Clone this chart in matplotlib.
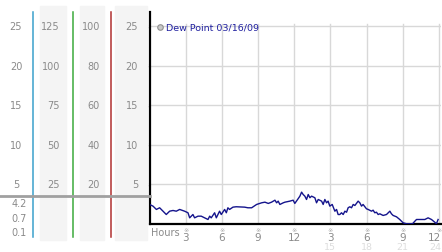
import matplotlib
matplotlib.use("Agg")
import matplotlib.pyplot as plt
import matplotlib.transforms as mtransforms

# dew point readings (hour of day, value)
hours = [0.0, 0.29, 0.57, 0.84, 1.12, 1.39, 1.67, 1.95, 2.22, 2.5, 2.91, 3.19, 3.33, 3.6,
         3.74, 4.02, 4.29, 4.57, 4.85, 4.99, 5.12, 5.4, 5.54, 5.81, 5.95, 6.23, 6.37, 6.5,
         6.64, 6.92, 7.19, 7.89, 8.16, 8.47, 8.88, 9.3, 9.57, 9.85, 10.12, 10.4, 10.54,
         10.67, 10.81, 11.09, 11.23, 11.64, 11.91, 12.05, 12.28, 12.47, 12.61, 12.74, 12.88,
         13.02, 13.16, 13.3, 13.44, 13.71, 13.85, 13.99, 14.27, 14.4, 14.54, 14.68, 14.81,
         14.95, 15.15, 15.37, 15.51, 15.64, 15.78, 15.92, 16.06, 16.2, 16.34, 16.47, 16.61,
         16.75, 16.89, 17.03, 17.3, 17.44, 17.58, 17.71, 17.99, 18.13, 18.41, 18.54, 18.68,
         18.82, 18.96, 19.1, 19.37, 19.65, 19.93, 20.06, 20.2, 20.48, 20.75, 21.03, 21.31,
         21.81, 22.0, 22.14, 22.83, 23.1, 23.38, 23.65, 23.79, 23.93]
dew = [2.47, 2.26, 1.84, 2.05, 1.62, 1.2, 1.62, 1.71, 1.62, 1.84, 1.62, 1.42, 0.78, 1.2,
       0.78, 0.99, 0.99, 0.78, 0.57, 0.99, 0.78, 1.42, 0.78, 1.62, 1.2, 1.84, 1.42, 2.05,
       1.84, 2.13, 2.18, 2.13, 2.05, 2.05, 2.47, 2.68, 2.76, 2.6, 2.76, 3.01, 2.68,
       2.89, 2.47, 2.68, 2.76, 2.89, 3.01, 2.6, 3.1, 3.52, 4.03, 3.73, 3.52,
       3.1, 3.73, 3.32, 3.52, 3.32, 2.68, 3.1, 2.89, 2.47, 3.1, 2.68, 2.89,
       2.26, 2.47, 1.62, 1.84, 1.2, 1.2, 1.42, 1.2, 1.62, 1.49, 2.05, 2.18,
       2.05, 2.47, 2.34, 2.89, 2.68, 2.26, 2.47, 1.92, 1.84, 1.62, 1.75, 1.42,
       1.49, 1.2, 1.29, 1.08, 1.2, 1.62, 1.29, 1.08, 0.91, 0.57, 0.15, 0.03,
       0.03, 0.35, 0.57, 0.57, 0.78, 0.57, 0.23, 0.03, 0.57]

y_ticks = [5, 10, 15, 20, 25]
x_ticks = [3, 6, 9, 12, 15, 18, 21, 24]
x_labels = ["3", "6", "9", "12", "3", "6", "9", "12"]
x_labels2 = ["", "", "", "", "15", "18", "21", "24"]

# left scale columns
scale1 = ["25", "20", "15", "10", "5"]
scale2 = ["125", "100", "75", "50", "25"]
scale3 = ["100", "80", "60", "40", "20"]
scale4 = ["25", "20", "15", "10", "5"]
low_labels = ["4.2", "0.7", "0.1"]
low_pos = [2.6, 0.7, -0.95]

W, H = 442, 253
fig = plt.figure(figsize=(W / 100, H / 100), dpi=100)
fig.patch.set_facecolor("white")

ax_box = [149.5 / W, (H - 225) / H, (441 - 149.5) / W, (225 - 13) / H]
ax = fig.add_axes(ax_box)
ymax = 26.8
xmax = 24.17
ax.set_xlim(0, xmax)
ax.set_ylim(0, ymax)

for y in y_ticks:
    ax.axhline(y, color="#d8d8d8", lw=1, zorder=0)
for x in x_ticks:
    ax.axvline(x, ymin=0, ymax=25.3 / ymax, color="#d8d8d8", lw=1, zorder=0)

ax.plot(hours, dew, color="#14148c", lw=1.0, zorder=3)

for s in ["top", "right"]:
    ax.spines[s].set_visible(False)
ax.spines["left"].set_linewidth(1.6)
ax.spines["bottom"].set_linewidth(1.6)
ax.set_xticks([])
ax.set_yticks([])

gray = "#8a8a8a"
trans_x = mtransforms.blended_transform_factory(ax.transData, ax.transAxes)
for x, l1, l2 in zip(x_ticks, x_labels, x_labels2):
    ax.text(x, -0.014, "※", transform=trans_x, ha="center", va="top", fontsize=4.5,
            color="#aaaaaa", clip_on=False)
    # last label sits on the right edge
    lx, ha = (xmax, "right") if x == x_ticks[-1] else (x, "center")
    ax.text(lx, -0.036, l1, transform=trans_x, ha=ha, va="top", fontsize=7.5,
            color=gray, clip_on=False)
    if l2:
        ax.text(lx, -0.083, l2, transform=trans_x, ha=ha, va="top", fontsize=6.8,
                color="#dddddd", clip_on=False)
ax.text(0.15, -0.016, "Hours", transform=trans_x, ha="left", va="top", fontsize=7,
        color=gray, clip_on=False)

trans_y = mtransforms.blended_transform_factory(ax.transAxes, ax.transData)
for y in y_ticks:
    ax.text(-0.012, y, "※", transform=trans_y, ha="center", va="center", fontsize=4.5,
            color="#aaaaaa", clip_on=False)

# legend
ax.plot([0.036], [0.93], "o", transform=ax.transAxes, ms=4, mfc="#c8c8c8",
        mec="#909090", mew=0.8, clip_on=False)
ax.text(0.055, 0.93, "Dew Point 03/16/09", transform=ax.transAxes, ha="left",
        va="center", fontsize=6.8, color="#2020a0")

# left scale panel, same vertical scale as the chart
axl = fig.add_axes([0, ax_box[1], 149.5 / W, ax_box[3]])
axl.set_xlim(0, 149.5)
axl.set_ylim(0, ymax)
axl.axis("off")

for x0, x1 in [(40, 66), (80, 104), (115, 147)]:
    axl.axvspan(x0, x1, ymin=-1.96 / ymax, ymax=27.6 / ymax, color="#f4f4f4",
                zorder=0, clip_on=False)
for x, c in [(33, "#3aa0cc"), (72.5, "#3caa3c"), (111, "#b03030")]:
    axl.axvline(x, ymin=-1.6 / ymax, ymax=26.8 / ymax, color=c, lw=1.1,
                zorder=2, clip_on=False)
axl.axhline(3.48, color="#a0a0a0", lw=2, zorder=3, clip_on=False)

for y, a, b, c, d in zip(y_ticks[::-1], scale1, scale2, scale3, scale4):
    axl.text(16, y, a, ha="center", va="center", fontsize=7, color=gray)
    axl.text(60, y, b, ha="right", va="center", fontsize=7, color=gray)
    axl.text(100, y, c, ha="right", va="center", fontsize=7, color=gray)
    axl.text(138, y, d, ha="right", va="center", fontsize=7, color=gray)
for y, t in zip(low_pos, low_labels):
    axl.text(27, y, t, ha="right", va="center", fontsize=7, color=gray, clip_on=False)

fig.savefig("out.png", dpi=100)
